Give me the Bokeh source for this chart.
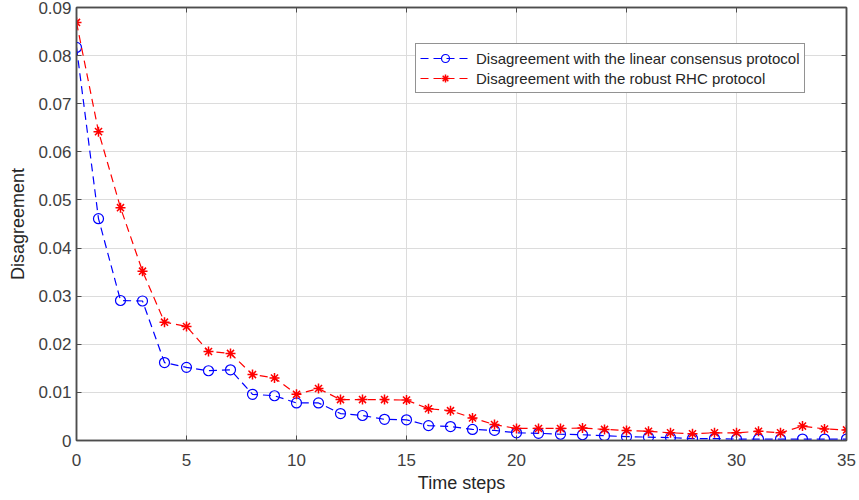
from bokeh.plotting import figure
from bokeh.models import (Range1d, FixedTicker, LinearAxis, Legend, LegendItem,
                          CustomJSTickFormatter)
from bokeh.embed import file_html
from bokeh.resources import INLINE

# Time steps and disagreement values of the two protocols
steps = list(range(36))
linear_consensus = [
    0.0817, 0.0461, 0.0291, 0.0290, 0.0162, 0.0152, 0.0145, 0.0147, 0.0096, 0.0093,
    0.0078, 0.0078, 0.0056, 0.0052, 0.0044, 0.0043, 0.0031, 0.0029, 0.0023, 0.0021,
    0.0016, 0.0015, 0.0013, 0.0012, 0.0010, 0.0008, 0.0007, 0.0006, 0.0004, 0.0004,
    0.0003, 0.0003, 0.0003, 0.0003, 0.0003, 0.0003,
]
robust_rhc = [
    0.0869, 0.0642, 0.0484, 0.0352, 0.0246, 0.0237, 0.0185, 0.0181, 0.0137, 0.0130,
    0.0096, 0.0108, 0.0085, 0.0085, 0.0085, 0.0084, 0.0066, 0.0062, 0.0047, 0.0033,
    0.0025, 0.0025, 0.0025, 0.0026, 0.0023, 0.0021, 0.0019, 0.0016, 0.0014, 0.0016,
    0.0016, 0.0019, 0.0016, 0.0030, 0.0024, 0.0022,
]
x_ticks = [0, 5, 10, 15, 20, 25, 30, 35]
y_ticks = [0, 0.01, 0.02, 0.03, 0.04, 0.05, 0.06, 0.07, 0.08, 0.09]

FONT = "Liberation Sans"
AXIS_COLOR = "#4d4d4d"
LABEL_COLOR = "#404040"

p = figure(width=859, height=500, output_backend="svg", toolbar_location=None,
           x_range=Range1d(0, 35), y_range=Range1d(0, 0.09),
           min_border_left=76, min_border_right=13, min_border_top=7,
           min_border_bottom=60)
p.background_fill_color = "white"
p.border_fill_color = "white"
p.outline_line_color = AXIS_COLOR
p.outline_line_width = 1.5

for ax in (p.xaxis[0], p.yaxis[0]):
    ax.major_tick_in = 5
    ax.major_tick_out = 0
    ax.minor_tick_line_color = None
    ax.axis_line_color = AXIS_COLOR
    ax.axis_line_width = 1.5
    ax.major_tick_line_color = AXIS_COLOR
    ax.major_label_text_font = FONT
    ax.major_label_text_font_size = "17px"
    ax.major_label_text_color = LABEL_COLOR
    ax.axis_label_text_font = FONT
    ax.axis_label_text_font_size = "18px"
    ax.axis_label_text_font_style = "normal"
    ax.axis_label_text_color = "#262626"

p.xaxis[0].ticker = FixedTicker(ticks=x_ticks)
p.yaxis[0].ticker = FixedTicker(ticks=y_ticks)
p.yaxis[0].formatter = CustomJSTickFormatter(
    code="return tick == 0 ? '0' : tick.toFixed(2);")
p.xaxis[0].axis_label = "Time steps"
p.yaxis[0].axis_label = "Disagreement"
p.xaxis[0].axis_label_standoff = 4
p.yaxis[0].axis_label_standoff = 7
p.xaxis[0].major_label_standoff = 13
p.yaxis[0].major_label_standoff = 5

# Box axes on top and right: inward tick marks, no labels
blank = CustomJSTickFormatter(code="return '';")
top = LinearAxis(ticker=FixedTicker(ticks=x_ticks), formatter=blank,
                 major_tick_in=5, major_tick_out=0, minor_tick_line_color=None,
                 axis_line_color=AXIS_COLOR, major_tick_line_color=AXIS_COLOR,
                 axis_line_width=1.5, major_label_standoff=0)
right = LinearAxis(ticker=FixedTicker(ticks=y_ticks), formatter=blank,
                   major_tick_in=5, major_tick_out=0, minor_tick_line_color=None,
                   axis_line_color=AXIS_COLOR, major_tick_line_color=AXIS_COLOR,
                   axis_line_width=1.5, major_label_standoff=0)
p.add_layout(top, "above")
p.add_layout(right, "right")

p.xgrid.ticker = FixedTicker(ticks=x_ticks)
p.ygrid.ticker = FixedTicker(ticks=y_ticks)
p.grid.grid_line_color = "#dcdcdc"
p.grid.grid_line_width = 1

blue_line = p.line(steps, linear_consensus, color="#0000ff", line_width=1.2,
                   line_dash="8 5")
blue_mark = p.scatter(steps, linear_consensus, marker="circle", size=10,
                      line_color="#0000ff", fill_color=None, line_width=1.2)
red_line = p.line(steps, robust_rhc, color="#ff0000", line_width=1.2,
                  line_dash="8 5")
red_mark = p.scatter(steps, robust_rhc, marker="asterisk", size=10,
                     line_color="#ff0000", line_width=1.5)

legend = Legend(items=[
    LegendItem(label="Disagreement with the linear consensus protocol",
               renderers=[blue_line, blue_mark]),
    LegendItem(label="Disagreement with the robust RHC protocol",
               renderers=[red_line, red_mark]),
], location=(339, 347))
legend.label_text_font = FONT
legend.label_text_font_size = "15px"
legend.label_text_color = "#262626"
legend.border_line_color = "#262626"
legend.border_line_width = 1
legend.glyph_width = 50
legend.glyph_height = 20
legend.label_standoff = 6
legend.spacing = 0
legend.padding = 4
legend.margin = 0
legend.label_height = 20
p.add_layout(legend, "center")

open("out.html", "w").write(file_html(p, INLINE))
